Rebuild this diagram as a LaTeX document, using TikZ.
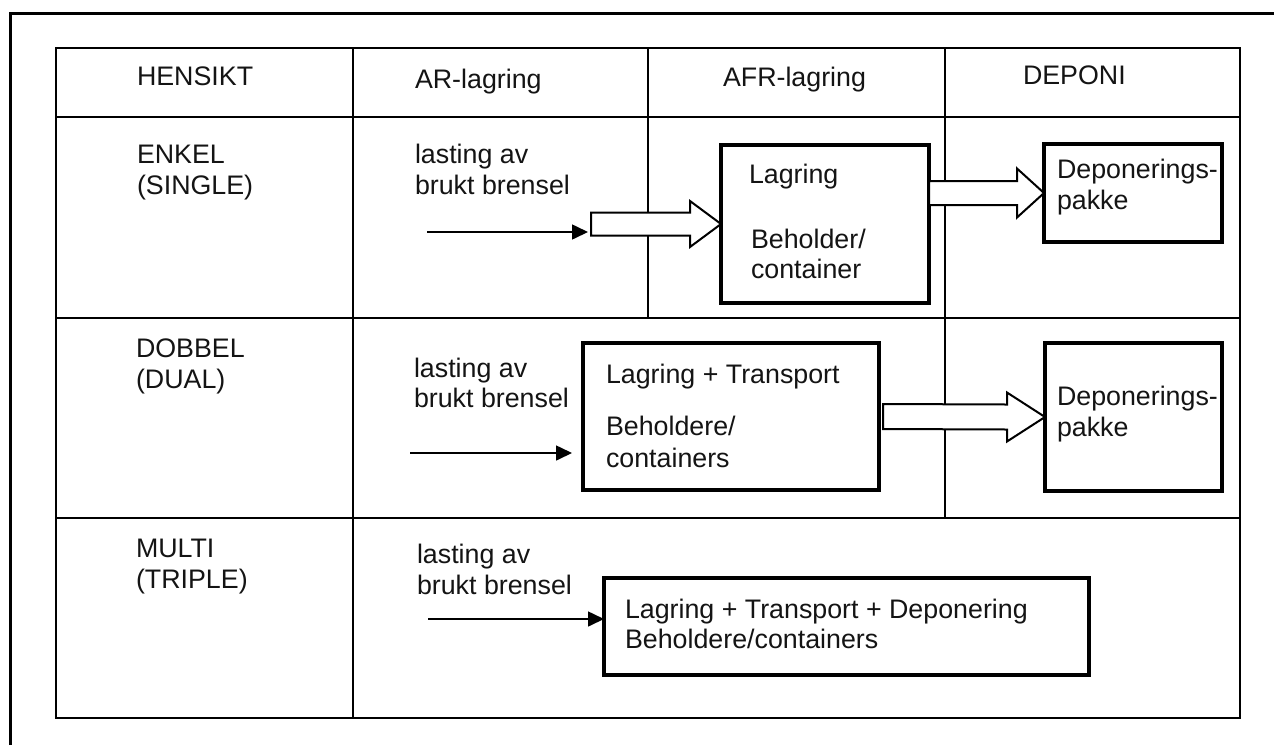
\documentclass[tikz,border=0pt]{standalone}
\usepackage{fontspec}
\setmainfont{Liberation Sans}
\usetikzlibrary{arrows.meta,calc}

% wide outlined arrow: #1 start, #2 tip, #3 half shaft, #4 head length, #5 half head
\newcommand\widearrow[5]{%
  \draw[hollow] ($(#1)+(0,-#3)$) -- ($(#2)+(-#4,-#3)$) -- ($(#2)+(-#4,-#5)$)
    -- (#2) -- ($(#2)+(-#4,#5)$) -- ($(#2)+(-#4,#3)$) -- ($(#1)+(0,#3)$) -- cycle;}

\begin{document}
\begin{tikzpicture}[x=0.5pt,y=-0.5pt,
  every node/.style={inner sep=0pt, outer sep=0pt},
  lbl/.style={anchor=base west, font=\fontsize{13.4pt}{15.5pt}\selectfont, text=black!92},
  frame/.style={line width=1.5pt},
  grid/.style={line width=1pt},
  thingrid/.style={line width=0.7pt},
  box/.style={draw, fill=white, line width=1.6pt},
  feed/.style={line width=0.8pt, -{Triangle[length=8pt,width=7.5pt]}},
  hollow/.style={draw, fill=white, line width=1pt, line join=miter}]
\useasboundingbox (0,0) rectangle (1274,745);

% page frame (top and left edges)
\draw[frame] (10,745) -- (10,13) -- (1274,13);

% table
\draw[grid] (56,48) rectangle (1240,718);
\draw[grid] (56,117) -- (1240,117);
\draw[grid] (56,318) -- (1240,318);
\draw[grid] (56,518) -- (1240,518);
\draw[grid] (353,48) -- (353,718);
\draw[thingrid] (648,48) -- (648,318);
\draw[thingrid] (945,48) -- (945,518);

% header row
\node[lbl] (hensikt) at (137,85) {HENSIKT};
\node[lbl] (ar) at (415,88) {AR-lagring};
\node[lbl] (afr) at (723,86) {AFR-lagring};
\node[lbl] (deponi) at (1023,84) {DEPONI};

% row: ENKEL
\node[lbl] (enkel1) at (137,163) {ENKEL};
\node[lbl] (enkel2) at (137,194) {(SINGLE)};
\node[lbl] (e-last1) at (415,163) {lasting av};
\node[lbl] (e-last2) at (415,194) {brukt brensel};

\node[box, line width=2.2pt, minimum width=104pt, minimum height=79pt] (lagbox) at (825,224) {};
\node[box, minimum width=89pt, minimum height=49pt] (dep1) at (1133,193) {};

\coordinate (hA) at ($(lagbox.west)+(-130,0)$);
\widearrow{hA}{lagbox.west}{11.5}{31}{23}
\coordinate (hB) at (lagbox.east |- dep1.west);
\widearrow{hB}{dep1.west}{12}{27}{24.5}

\coordinate (f1) at (427,232);
\draw[feed] (f1) -- ($(f1 -| hA)+(-3,0)$);

\node[lbl] (lag1) at (749,183) {Lagring};
\node[lbl] (lag2) at (751,248) {Beholder/};
\node[lbl] (lag3) at (751,278) {container};
\node[lbl] (dp1a) at (1057,178) {Deponerings-};
\node[lbl] (dp1b) at (1057,209) {pakke};

% row: DOBBEL
\node[lbl] (dobbel1) at (136,357) {DOBBEL};
\node[lbl] (dobbel2) at (136,388) {(DUAL)};
\node[lbl] (d-last1) at (414,377) {lasting av};
\node[lbl] (d-last2) at (414,407) {brukt brensel};

\node[box, minimum width=148pt, minimum height=73.5pt] (ltbox) at (731,416.5) {};
\node[box, minimum width=88.5pt, minimum height=74pt] (dep2) at (1133.5,417) {};

\coordinate (hC) at ($(ltbox.east)+(4,0)$);
\widearrow{hC}{dep2.west}{12.5}{38}{24.5}

\coordinate (f2) at (410,453);
\draw[feed] (f2) -- ($(f2 -| ltbox.west)+(-11,0)$);

\node[lbl] (lt1) at (606,383) {Lagring + Transport};
\node[lbl] (lt2) at (606,435) {Beholdere/};
\node[lbl] (lt3) at (606,467) {containers};
\node[lbl] (dp2a) at (1057,405) {Deponerings-};
\node[lbl] (dp2b) at (1057,436) {pakke};

% row: MULTI
\node[lbl] (multi1) at (136,557) {MULTI};
\node[lbl] (multi2) at (136,588) {(TRIPLE)};
\node[lbl] (m-last1) at (417,563) {lasting av};
\node[lbl] (m-last2) at (417,594) {brukt brensel};

\node[box, minimum width=242.5pt, minimum height=48.5pt] (ltdbox) at (846.5,626.5) {};
\coordinate (f3) at (428,619);
\draw[feed] (f3) -- (f3 -| ltdbox.west);

\node[lbl] (ltd1) at (625,618) {Lagring + Transport + Deponering};
\node[lbl] (ltd2) at (625,648) {Beholdere/containers};
\end{tikzpicture}
\end{document}
